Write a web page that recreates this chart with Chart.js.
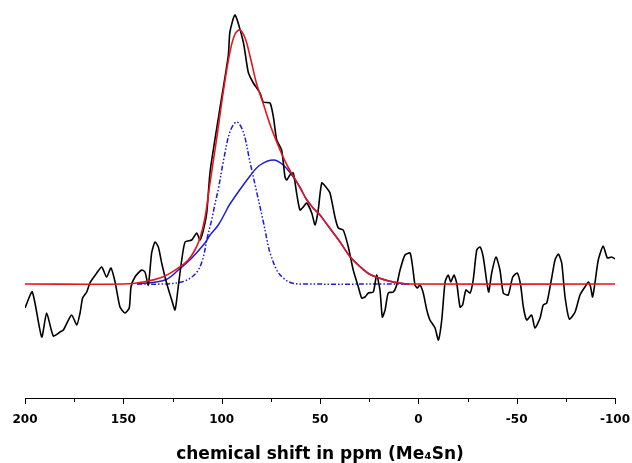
<!DOCTYPE html>
<html>
<head>
<meta charset="utf-8">
<script src="https://cdn.jsdelivr.net/npm/chart.js@4"></script>
<style>
  html, body { margin: 0; padding: 0; background: #fff; }
  #wrap { width: 632px; height: 463px; }
</style>
</head>
<body>
<div id="wrap"><canvas id="nmr-chart"></canvas></div>
<script>
// measured spectrum (ppm, intensity)
const specPpm = [200,196.3,191.5,189.0,185.6,182.2,180.5,176.3,173.7,172.0,170.7,168.6,167.0,163.5,161.0,158.5,156.3,154.2,151.7,149.2,147.0,146.1,144.1,140.7,139.0,137.3,135.6,133.9,132.2,130.5,128.0,125.4,123.7,122.1,120.3,118.6,115.2,112.7,111.0,109.3,107.6,105.9,102.5,99.2,96.6,95.8,93.2,89.0,86.5,83.9,80.5,78.8,75.4,73.7,72.0,69.5,67.8,66.9,65.3,63.6,61.9,60.2,58.5,56.8,54.2,52.5,50.9,49.1,46.6,44.9,42.4,40.7,38.2,35.6,33.1,30.5,28.8,27.1,25.4,22.9,21.2,19.5,18.3,16.9,15.3,12.7,11.0,9.3,6.8,4.2,2.9,1.7,0.5,-0.8,-2.5,-4.3,-5.9,-8.5,-10.2,-11.9,-13.6,-15.2,-16.5,-18.1,-19.5,-21.2,-22.5,-24.2,-26.3,-27.9,-29.7,-31.4,-33.0,-34.8,-35.8,-37.3,-39.5,-41.5,-43.2,-45.7,-48.0,-50.3,-52.0,-53.4,-55.1,-57.6,-59.3,-61.9,-63.5,-65.3,-67.8,-69.5,-71.2,-72.9,-74.6,-76.8,-79.7,-82.2,-84.7,-86.5,-87.6,-88.6,-89.8,-91.5,-94.0,-96.1,-98.3,-100];
const specInt = [-24,-8,-53,-29,-52,-48,-46,-31,-41,-29,-14,-8,1,11,17,7,16,2,-23,-29,-24,-3,7,14,12,-1,31,42,37,21,1,-16,-26,-3,24,42,44,51,44,54,71,112,156,196,229,252,269,242,212,201,191,182,181,167,144,134,107,104,109,111,91,74,77,81,71,59,74,101,96,91,67,56,54,37,14,-3,-14,-13,-9,-8,9,-6,-33,-26,-9,-8,-1,14,29,31,17,-1,-4,-1,-9,-26,-36,-44,-56,-36,2,9,2,9,1,-23,-21,-6,-9,4,34,37,27,2,-8,11,27,14,-9,-11,7,11,-1,-23,-36,-31,-44,-34,-21,-19,6,24,30,21,-13,-35,-28,-11,-3,2,-3,-13,1,24,38,26,27,25];

// total fit
const fitPpm = [200,150,140,130,122,117,113.6,111,108.5,106,102.5,99.2,95.8,93.2,90.7,88.1,85.6,82.2,78.8,75.5,72,69,66,63,60,57,53.5,50,46.6,43.2,39.8,35,30,25,20,15,10,5,-100];
const fitInt = [0,0,2,7,16,24,34,46,66,100,146,192,232,250,254,246,228,200,180,160,142,128,116,106,96,85,76,69,60,51,42,28,18,10,6,3,1,0,0];

// narrow component
const narrowPpm = [143,130,120.3,115.2,111.9,109.3,107.6,105.1,103.4,101.7,99.2,95.8,92.4,89.0,85.6,82.2,78.8,76.3,75.4,72.0,68.7,64.4,60,4];
const narrowInt = [0,0,2,7,14,27,44,64,80,95,122,152,162,152,122,92,62,38,31,14,6,1,0,0];

// broad component
const broadPpm = [143,128.8,122.0,115.2,108.5,105.9,101.7,98.3,95.8,85.6,80.5,73.7,68.7,63.6,60,57,53.5,50,46.6,43.2,39.8,35,30,25,20,15,10,5];
const broadInt = [0,4,14,26,41,49,59,71,80,108,119,124,119,107,96,85,76,69,60,51,42,28,18,10,6,3,1,0];

const majorTicks = [200,150,100,50,0,-50,-100];
const minorTicks = [175,125,75,25,-25,-75];

const pts = (xs, ys) => xs.map((x, i) => ({x: x, y: ys[i]}));

const tickMarks = {
  id: 'tickMarks',
  afterDraw(chart) {
    const ctx = chart.ctx, sx = chart.scales.x, y0 = chart.chartArea.bottom;
    ctx.save();
    ctx.strokeStyle = '#000';
    ctx.lineWidth = 1;
    ctx.beginPath();
    majorTicks.forEach(v => {
      const px = Math.round(sx.getPixelForValue(v)) + 0.5;
      ctx.moveTo(px, y0); ctx.lineTo(px, y0 + 6);
    });
    minorTicks.forEach(v => {
      const px = Math.round(sx.getPixelForValue(v)) + 0.5;
      ctx.moveTo(px, y0); ctx.lineTo(px, y0 + 4);
    });
    ctx.stroke();
    ctx.restore();
  }
};

new Chart(document.getElementById('nmr-chart'), {
  type: 'line',
  data: {
    datasets: [{
        label: 'fit',
        data: pts(fitPpm, fitInt),
        borderColor: '#e3161e',
        borderWidth: 1.6,
        tension: 0.35,
        order: 0
      }, {
        label: 'spectrum',
        data: pts(specPpm, specInt),
        borderColor: '#000',
        borderWidth: 1.6,
        tension: 0.2,
        order: 1
      }, {
        label: 'narrow',
        data: pts(narrowPpm, narrowInt),
        borderColor: '#1c1cd8',
        borderWidth: 1.5,
        borderDash: [5, 2, 1.5, 2, 1.5, 2],
        tension: 0.35,
        order: 2
      }, {
        label: 'broad',
        data: pts(broadPpm, broadInt),
        borderColor: '#1c1cd8',
        borderWidth: 1.5,
        tension: 0.35,
        order: 3
      }
    ]
  },
  options: {
    responsive: true,
    maintainAspectRatio: false,
    animation: false,
    events: [],
    elements: { point: { radius: 0 } },
    layout: { padding: { left: 25, right: 17, top: 10, bottom: 0 } },
    plugins: {
      legend: { display: false },
      tooltip: { enabled: false }
    },
    scales: {
      x: {
        type: 'linear',
        reverse: true,
        min: -100,
        max: 200,
        afterBuildTicks: (scale) => { scale.ticks = majorTicks.map(v => ({value: v})); },
        afterFit: (scale) => {
          scale.height = 65;
          scale.paddingLeft = 0;
          scale.paddingRight = 0;
        },
        grid: { display: false, drawTicks: false, tickLength: 0 },
        border: { display: true, color: '#000', width: 1 },
        ticks: {
          color: '#000',
          padding: 15,
          maxRotation: 0,
          autoSkip: false,
          font: { family: 'DejaVu Sans', size: 12, weight: 'bold' }
        },
        title: {
          display: true,
          text: 'chemical shift in ppm (Me\u2084Sn)',
          color: '#000',
          padding: { top: 0, bottom: 0 },
          font: { family: 'DejaVu Sans', size: 17, weight: 'bold', lineHeight: 1 }
        }
      },
      y: {
        display: false,
        min: -114,
        max: 274
      }
    }
  },
  plugins: [tickMarks]
});
</script>
</body>
</html>
